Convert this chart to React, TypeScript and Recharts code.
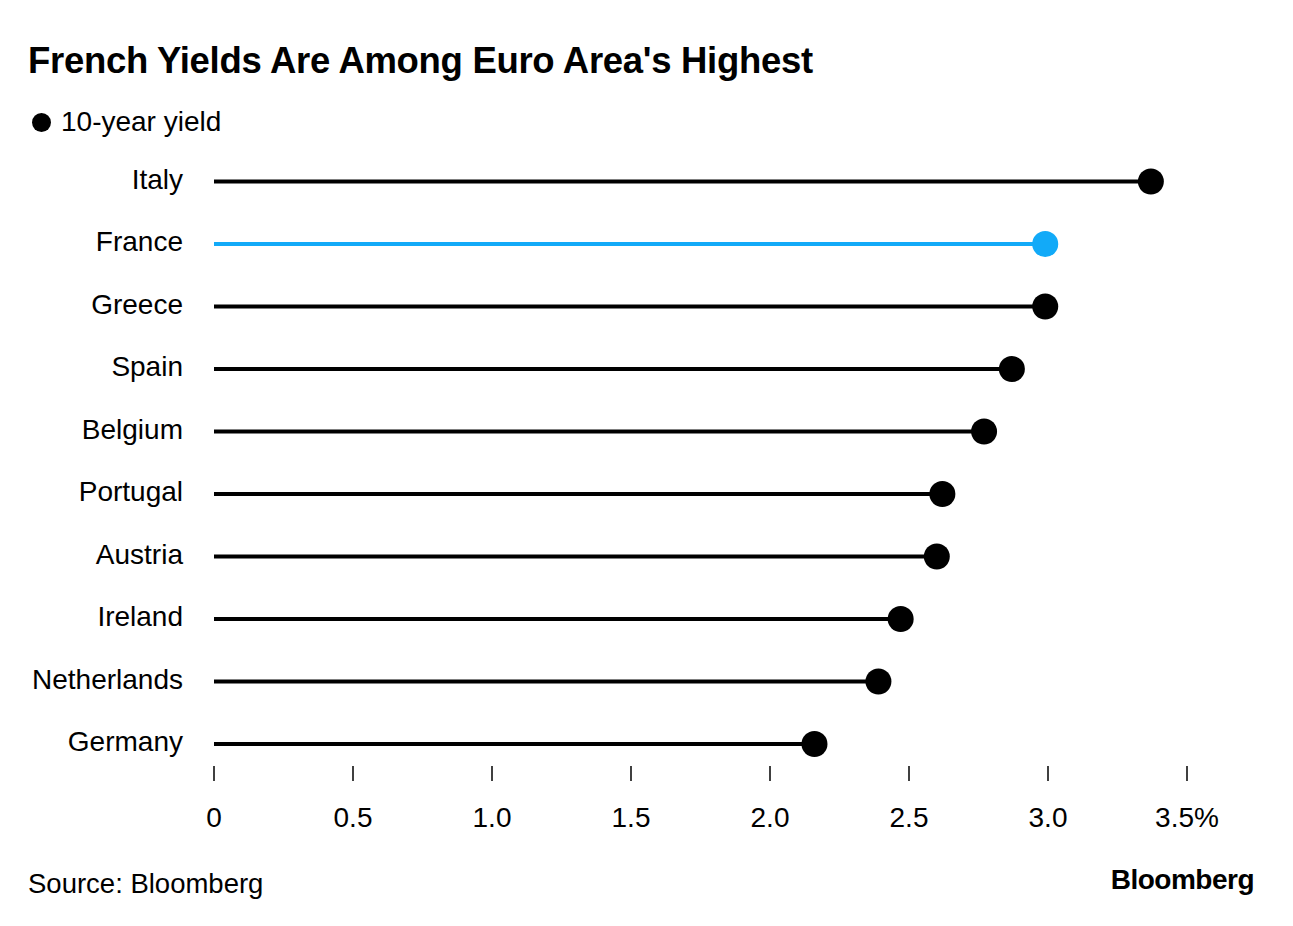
import { Bar, BarChart, Cell, XAxis, YAxis } from 'recharts';

const countries = [
  'Italy',
  'France',
  'Greece',
  'Spain',
  'Belgium',
  'Portugal',
  'Austria',
  'Ireland',
  'Netherlands',
  'Germany',
];
const yields = [3.37, 2.99, 2.99, 2.87, 2.77, 2.62, 2.6, 2.47, 2.39, 2.16];
const xTicks = [0, 0.5, 1.0, 1.5, 2.0, 2.5, 3.0, 3.5];
const highlight = 'France';

const data = countries.map((c, i) => ({ country: c, value: yields[i] }));

const FONT = '"Liberation Sans", Arial, Helvetica, sans-serif';
const BLUE = '#12aaf8';

const fmtTick = (v: number) => {
  if (v === 0) return '0';
  if (v === 3.5) return '3.5%';
  return v.toFixed(1);
};

const Lollipop = (props: any) => {
  const { x, y, width, height, fill } = props;
  const cy = y + height / 2;
  return (
    <g>
      <line x1={x} y1={cy} x2={x + width} y2={cy} stroke={fill} strokeWidth={4} />
      <circle cx={x + width} cy={cy} r={13} fill={fill} />
    </g>
  );
};

const XTick = (props: any) => {
  const { x, y, payload } = props;
  return (
    <g>
      <line x1={x} y1={y - 9} x2={x} y2={y + 6} stroke="#000" strokeWidth={1.5} />
      <text
        x={x}
        y={y + 42}
        textAnchor="middle"
        dominantBaseline="central"
        fontFamily={FONT}
        fontSize={28}
        fill="#000"
      >
        {fmtTick(payload.value)}
      </text>
    </g>
  );
};

const YTick = (props: any) => {
  const { x, y, payload } = props;
  return (
    <text
      x={x}
      y={y - 2}
      textAnchor="end"
      dominantBaseline="central"
      fontFamily={FONT}
      fontSize={28}
      fill="#000"
    >
      {payload.value}
    </text>
  );
};

const App = () => {
  return (
    <div
      style={{
        position: 'absolute',
        left: 0,
        top: 0,
        width: 1293,
        height: 926,
        background: '#fff',
        fontFamily: FONT,
        color: '#000',
      }}
    >
      <BarChart
        layout="vertical"
        width={1293}
        height={926}
        data={data}
        margin={{ top: 150, right: 106, bottom: 91, left: 0 }}
        barCategoryGap={0}
      >
        <XAxis
          type="number"
          domain={[0, 3.5]}
          ticks={xTicks}
          axisLine={false}
          tickLine={false}
          tickSize={0}
          tickMargin={0}
          height={60}
          tick={<XTick />}
          interval={0}
        />
        <YAxis
          type="category"
          dataKey="country"
          width={214}
          axisLine={false}
          tickLine={false}
          tickSize={0}
          tickMargin={31}
          tick={<YTick />}
          interval={0}
        />
        <Bar dataKey="value" shape={<Lollipop />} isAnimationActive={false}>
          {data.map(d => (
            <Cell key={d.country} fill={d.country === highlight ? BLUE : '#000'} />
          ))}
        </Bar>
      </BarChart>

      <div
        style={{
          position: 'absolute',
          left: 28,
          top: 39,
          fontSize: 36.5,
          fontWeight: 700,
          letterSpacing: -0.3,
          lineHeight: '44px',
          whiteSpace: 'nowrap',
        }}
      >
        French Yields Are Among Euro Area's Highest
      </div>

      <div
        style={{
          position: 'absolute',
          left: 32,
          top: 106,
          display: 'flex',
          alignItems: 'center',
          fontSize: 28,
          lineHeight: '32px',
        }}
      >
        <span
          style={{
            display: 'inline-block',
            width: 19,
            height: 19,
            borderRadius: '50%',
            background: '#000',
            marginRight: 10,
          }}
        />
        10-year yield
      </div>

      <div
        style={{
          position: 'absolute',
          left: 28,
          top: 868,
          fontSize: 27.5,
          lineHeight: '32px',
        }}
      >
        Source: Bloomberg
      </div>

      <div
        style={{
          position: 'absolute',
          right: 39,
          top: 863,
          fontSize: 28,
          fontWeight: 700,
          letterSpacing: -0.5,
          lineHeight: '34px',
        }}
      >
        Bloomberg
      </div>
    </div>
  );
};

export default App;
